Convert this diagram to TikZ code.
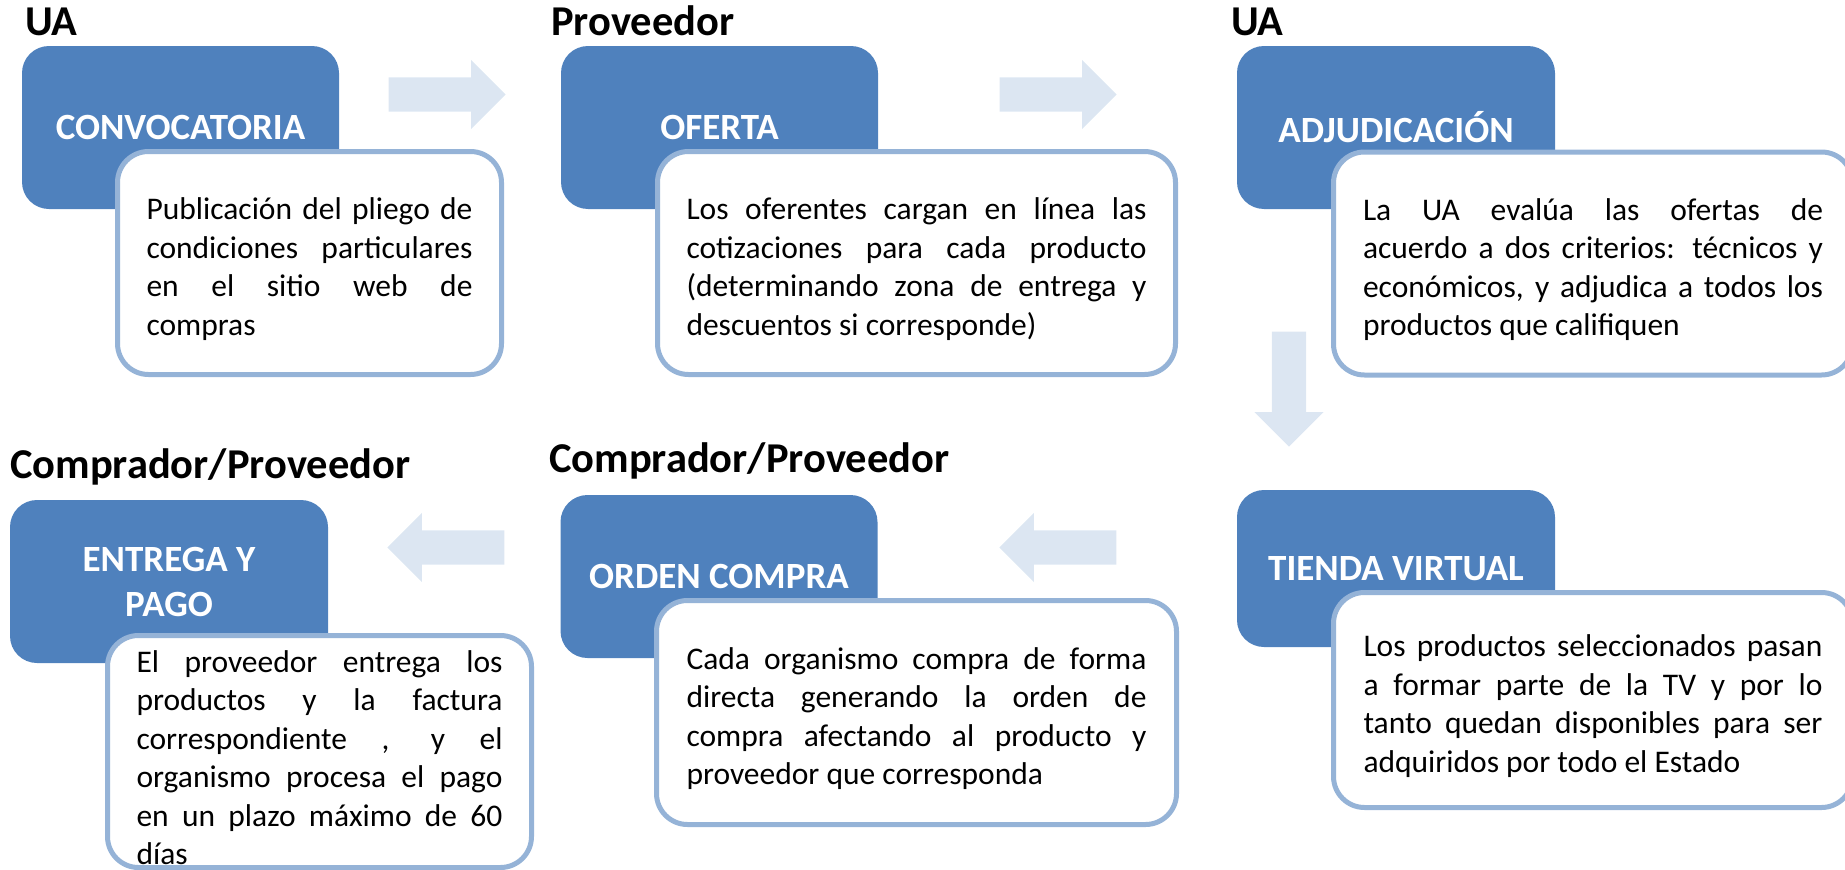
\documentclass[tikz,border=0pt]{standalone}
\usepackage{fontspec}
\setmainfont{Carlito}
\usetikzlibrary{shapes.arrows}
\definecolor{stepblue}{HTML}{4F81BD}
\definecolor{cardline}{HTML}{95B3D7}
\definecolor{arrowfill}{HTML}{DCE6F2}
\hyphenpenalty=10000
\tolerance=10000

\begin{document}
\begin{tikzpicture}
  [x=1pt,y=-1pt,
   stage/.style={rectangle,rounded corners=27pt,fill=stepblue,text=white,
     font=\bfseries\fontsize{37}{45}\selectfont,align=center,
     minimum width=317pt,minimum height=163pt,inner sep=0pt},
   card/.style={rectangle,rounded corners=31pt,fill=white,draw=cardline,line width=5pt,
     font=\fontsize{31.5}{38.5}\selectfont,align=justify,inner sep=0pt,text height=34pt},
   role/.style={anchor=base west,font=\bfseries\fontsize{42.5}{50}\selectfont,inner sep=0pt},
   flow/.style={single arrow,fill=arrowfill,inner xsep=0pt,inner ysep=17pt,
     single arrow head extend=17.5pt,single arrow head indent=0pt,anchor=tip}]
  \useasboundingbox (0,0) rectangle (1845,870);
  \clip (0,0) rectangle (1845,870);

  % who does each step
  \node[role] (r1) at (25,35) {UA};
  \node[role] (r2) at (551,35) {Proveedor};
  \node[role] (r3) at (1231,35) {UA};
  \node[role] (r4) at (10,478) {Comprador/Proveedor};
  \node[role] (r5) at (549,472) {Comprador/Proveedor};

  % steps
  \node[stage] (s1) at (180.5,127.5) {CONVOCATORIA};
  \node[stage] (s2) at (719.5,127.5) {OFERTA};
  \node[stage,minimum width=318pt] (s3) at (1396,127.5) {ADJUDICACIÓN};
  \node[stage,minimum width=318pt] (s4) at (169,581.5) {ENTREGA Y\\PAGO};
  \node[stage] (s5) at (719,576.5) {ORDEN COMPRA};
  \node[stage,minimum width=318pt,minimum height=157pt] (s6) at (1396,568.5) {TIENDA VIRTUAL};

  % descriptions
  \node[card,minimum width=384pt,minimum height=223pt,text width=326pt] (c1) at (309.5,263)
    {Publicación del pliego de\linebreak condiciones particulares\linebreak en el sitio web de\linebreak compras};
  \node[card,minimum width=518pt,minimum height=223pt,text width=460pt] (c2) at (916.5,263)
    {Los oferentes cargan en línea las\linebreak cotizaciones para cada producto\linebreak (determinando zona de entrega y\linebreak descuentos si corresponde)};
  \node[card,minimum width=519pt,minimum height=223pt,text width=460pt] (c3) at (1593,263.5)
    {La UA evalúa las ofertas de\linebreak acuerdo a dos criterios: técnicos y\linebreak económicos, y adjudica a todos los\linebreak productos que califiquen};
  \node[card,minimum width=424pt,minimum height=232pt,text width=366pt] (c4) at (319.5,751.5)
    {El proveedor entrega los\linebreak productos y la factura\linebreak correspondiente , y el\linebreak organismo procesa el pago\linebreak en un plazo máximo de 60\linebreak días};
  \node[card,minimum width=520pt,minimum height=224pt,text width=460pt] (c5) at (916.5,712.5)
    {Cada organismo compra de forma\linebreak directa generando la orden de\linebreak compra afectando al producto y\linebreak proveedor que corresponda};
  \node[card,minimum width=519pt,minimum height=215pt,text width=459pt] (c6) at (1593,700)
    {Los productos seleccionados pasan\linebreak a formar parte de la TV y por lo\linebreak tanto quedan disponibles para ser\linebreak adquiridos por todo el Estado};

  % arrows between steps
  \foreach \name/\tx/\ty/\turn/\len in {a1/506/94.5/0/117,a2/1117/94.5/0/117,a3/1289/447/-90/115,a4/999/547.5/180/117,a5/387/547.5/180/117}
    \node[flow,rotate=\turn,minimum height=\len pt] (\name) at (\tx,\ty) {};
\end{tikzpicture}
\end{document}
